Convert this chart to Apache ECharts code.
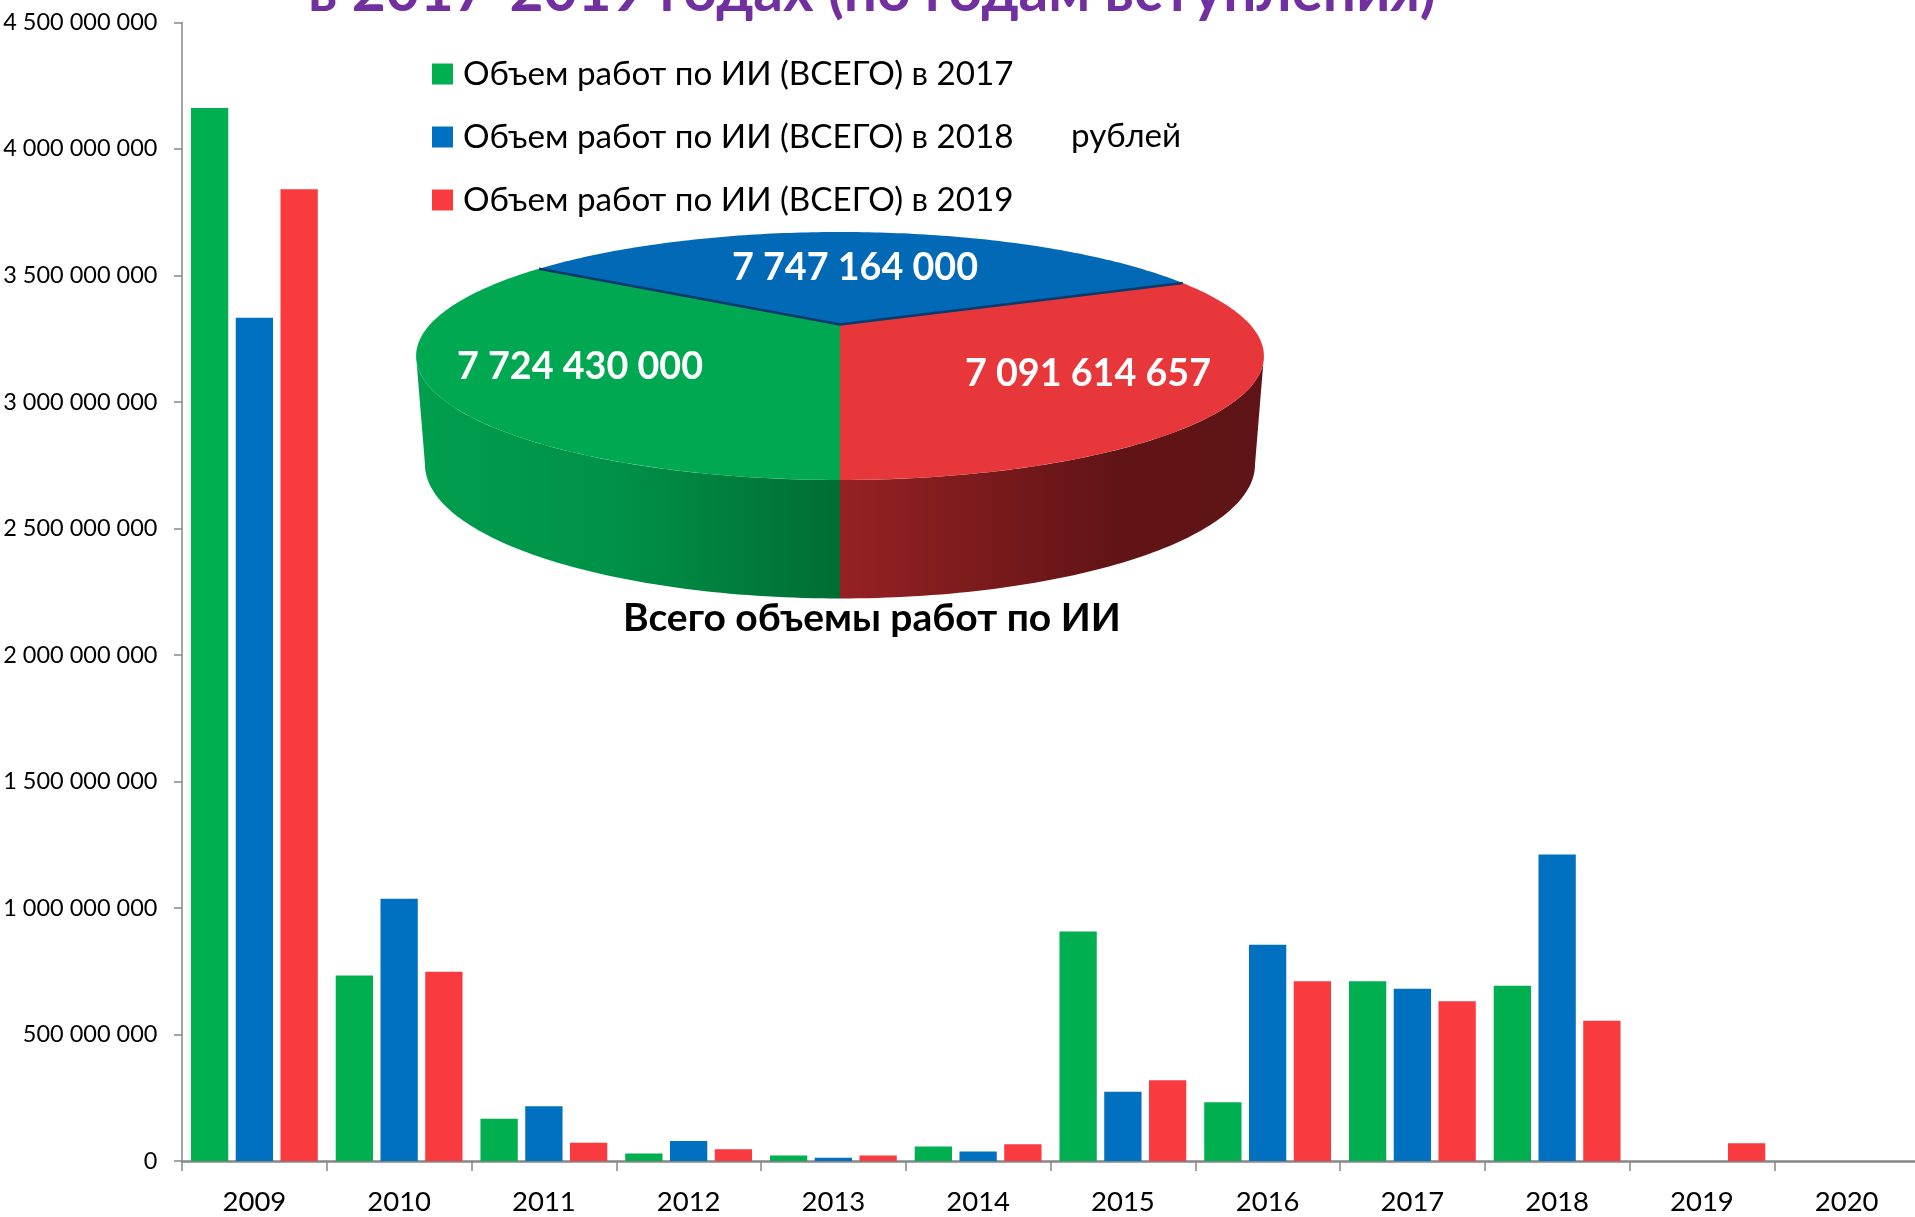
<!DOCTYPE html>
<html><head><meta charset="utf-8">
<style>html,body{margin:0;padding:0;background:#fff}#c{width:1915px;height:1217px}</style>
<script src="https://cdn.jsdelivr.net/npm/echarts@6/dist/echarts.min.js"></script>
</head><body><div id="c"></div>
<script>
const years = ['2009','2010','2011','2012','2013','2014','2015','2016','2017','2018','2019','2020'];
const volume2017 = [4162e6,733e6,167e6,30e6,22e6,57e6,907e6,232e6,710e6,693e6,null,null];
const volume2018 = [3333e6,1036e6,216e6,79e6,13e6,38e6,274e6,855e6,681e6,1211e6,null,null];
const volume2019 = [3841e6,748e6,72e6,46e6,22e6,66e6,319e6,710e6,631e6,554e6,70e6,null];
const legendNames = ['Объем работ по ИИ (ВСЕГО) в 2017','Объем работ по ИИ (ВСЕГО) в 2018','Объем работ по ИИ (ВСЕГО) в 2019'];
const pieTotals = [7724430000,7747164000,7091614657];
const titleText = 'в 2017-2019 годах (по годам вступления)';
const unitText = 'рублей';
const pieCaption = 'Всего объемы работ по ИИ';

const FONT = 'Lato, "Open Sans", sans-serif';
const fmt = v => String(v).replace(/\B(?=(\d{3})+(?!\d))/g,' ');
const barColors = ['#00B050','#0070C0','#F93A3F'];
const topColors = ['#00A851','#0169B6','#E8373A'];
const labelPos = [[580,367],[855,268],[1088,374]];
const wallFills = [
  {type:'linear',x:1,y:0,x2:0,y2:0,colorStops:[{offset:0,color:'#006D33'},{offset:.55,color:'#009248'},{offset:1,color:'#009E4D'}]},
  null,
  {type:'linear',x:0,y:0,x2:1,y2:0,colorStops:[{offset:0,color:'#962123'},{offset:.65,color:'#611416'},{offset:1,color:'#5E1416'}]}
];
// projected disc
const P = {cx:840, cy:324.5, A:410, B:116, k:0.254, depth:106, shrinkX:0.979, shrinkY:1.08};
function proj(deg, bottom){
  const t = deg*Math.PI/180, u = -Math.sin(t), v = -Math.cos(t), w = 1+P.k*v;
  const sx = bottom ? P.shrinkX : 1, sy = bottom ? P.shrinkY : 1, dy = bottom ? P.depth : 0;
  return [P.cx + sx*P.A*u/w, P.cy + dy - sy*P.B*v/w];
}
function arc(a,b,bottom){
  const n = Math.max(2,Math.ceil(Math.abs(b-a))), out=[];
  for(let i=0;i<=n;i++) out.push(proj(a+(b-a)*i/n,bottom));
  return out;
}
const total = pieTotals.reduce((a,b)=>a+b,0);
const edgeDeg = Math.acos(P.k)*180/Math.PI;

function renderPie(params){
  const i = params.dataIndex;
  let start = 0;
  for(let j=0;j<i;j++) start += pieTotals[j]/total*360;
  const end = start + pieTotals[i]/total*360;
  const kids = [];
  if(i===0){
    const top = arc(0,edgeDeg,false), bot = arc(edgeDeg,0,true);
    kids.push({type:'polygon',shape:{points:top.concat(bot)},style:{fill:wallFills[0]},z2:1});
  }
  if(i===2){
    const top = arc(360-edgeDeg,360,false), bot = arc(360,360-edgeDeg,true);
    kids.push({type:'polygon',shape:{points:top.concat(bot)},style:{fill:wallFills[2]},z2:1});
  }
  kids.push({type:'polygon',shape:{points:[[P.cx,P.cy]].concat(arc(start,end,false))},style:{fill:topColors[i]},z2:2});
  if(i===1){
    kids.push({type:'polyline',shape:{points:[proj(start,false),[P.cx,P.cy],proj(end,false)]},
      style:{stroke:'#0B3A6B',lineWidth:2.5,fill:'none'},z2:5});
  }
  kids.push({type:'text',z2:6,style:{text:fmt(pieTotals[i]),x:labelPos[i][0],y:labelPos[i][1],
    fill:'#fff',font:'bold 37.7px '+FONT,textAlign:'center',textVerticalAlign:'middle'}});
  return {type:'group',children:kids};
}
const barSeries = [volume2017,volume2018,volume2019].map((d,i)=>({
  name:legendNames[i],type:'bar',data:d,barWidth:37.3,barGap:'20%',
  itemStyle:{color:barColors[i]},animation:false
}));
const chart = echarts.init(document.getElementById('c'),null,{renderer:'canvas'});
chart.setOption({
  animation:false,
  backgroundColor:'#fff',
  title:{text:titleText,left:308,top:-38,padding:0,
    textStyle:{fontFamily:FONT,fontSize:58.6,fontWeight:'bold',color:'#7030A0',lineHeight:60}},
  legend:{show:true,data:legendNames,orient:'vertical',left:432,top:57.5,padding:0,
    itemWidth:21,itemHeight:21,itemGap:30,icon:'rect',selectedMode:false,
    textStyle:{fontFamily:FONT,fontSize:33.2,color:'#000',padding:[0,0,0,5]}},
  grid:{left:182,top:22.4,width:1737,height:1138.6,containLabel:false,outerBoundsMode:'none'},
  xAxis:{type:'category',data:years,
    axisLine:{lineStyle:{color:'#868686',width:2.5}},
    axisTick:{show:true,alignWithLabel:false,length:10,lineStyle:{color:'#868686',width:1.5}},
    axisLabel:{interval:0,fontFamily:FONT,fontSize:27.5,color:'#000',margin:27}},
  yAxis:{type:'value',min:0,max:4500000000,interval:500000000,
    axisLine:{show:true,lineStyle:{color:'#868686',width:1.5}},
    axisTick:{show:true,length:8,lineStyle:{color:'#868686',width:1.5}},
    splitLine:{show:false},
    axisLabel:{fontFamily:FONT,fontSize:23.5,color:'#000',margin:24.5,formatter:v=>fmt(v)}},
  series:barSeries.concat([{name:pieCaption,type:'custom',coordinateSystem:'none',data:pieTotals,
    renderItem:renderPie,silent:true,animation:false,clip:false,z:5}]),
  graphic:[
    {type:'text',left:1071,top:120,style:{text:unitText,fill:'#000',font:'33.2px '+FONT}},
    {type:'text',left:623,top:599,style:{text:pieCaption,fill:'#000',font:'bold 39px '+FONT}}
  ]
});
</script></body></html>
